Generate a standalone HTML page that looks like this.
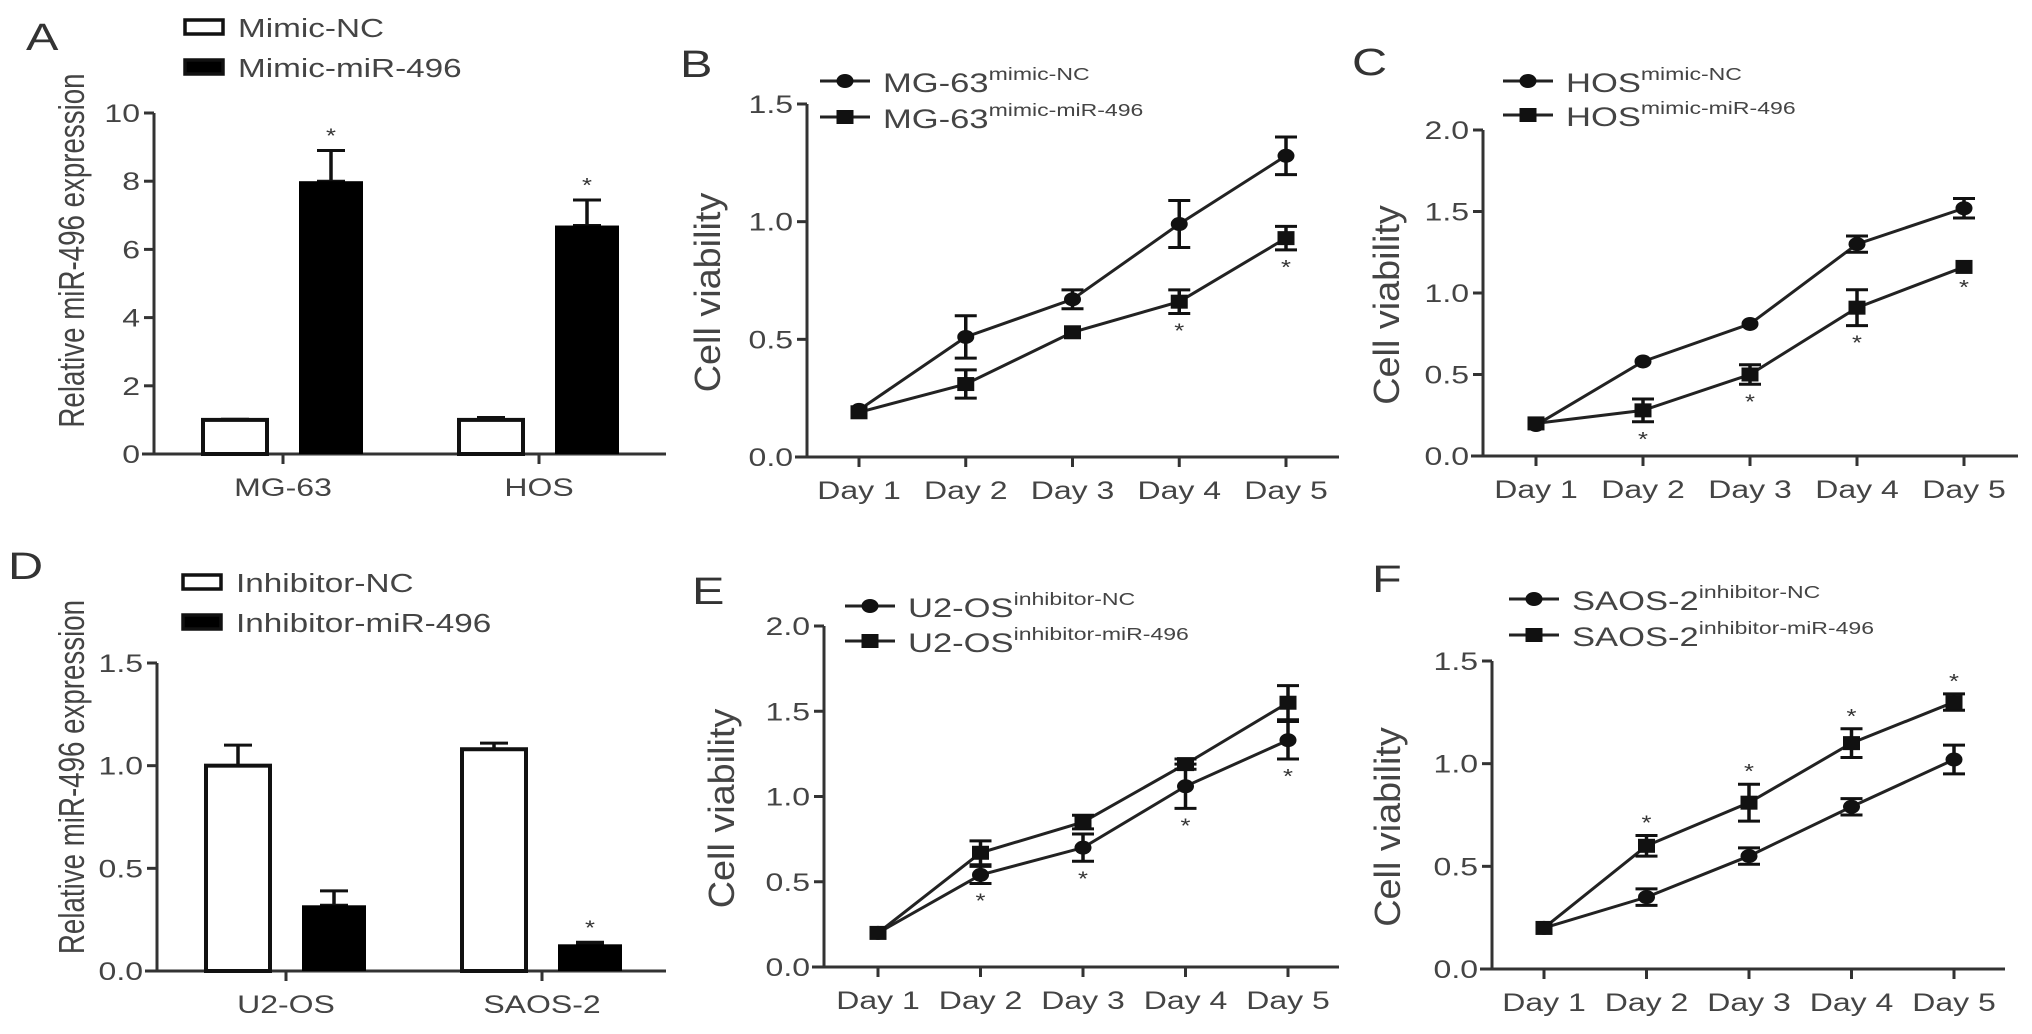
<!DOCTYPE html>
<html><head><meta charset="utf-8"><style>
html,body{margin:0;padding:0;background:#fff;overflow:hidden}
svg{display:block;font-family:"Liberation Sans",sans-serif}
</style></head><body>
<svg id="fig" width="2032" height="1034" viewBox="0 0 2032 1034" xmlns="http://www.w3.org/2000/svg"></svg>
<script>
// ---- Data ----
const barCatsA = ["MG-63","HOS"];
const barNC_A = [1.0, 1.0];
const barNCerr_A = [0.02, 0.07];
const barMiR_A = [8.0, 6.7];
const barMiRerr_A = [0.9, 0.75];
const barTicksA = [0,2,4,6,8,10];

const barCatsD = ["U2-OS","SAOS-2"];
const barNC_D = [1.0, 1.08];
const barNCerr_D = [0.1, 0.03];
const barMiR_D = [0.32, 0.13];
const barMiRerr_D = [0.07, 0.01];
const barStarD = [false, true];
const barTicksD = [0,0.5,1.0,1.5];

const days = ["Day 1","Day 2","Day 3","Day 4","Day 5"];
const B_nc = [0.20,0.51,0.67,0.99,1.28];
const B_ncErr = [0.02,0.09,0.04,0.10,0.08];
const B_mi = [0.19,0.31,0.53,0.66,0.93];
const B_miErr = [0.02,0.06,0.01,0.05,0.05];
const C_nc = [0.19,0.58,0.81,1.30,1.52];
const C_ncErr = [0.02,0.01,0.02,0.05,0.06];
const C_mi = [0.20,0.28,0.50,0.91,1.16];
const C_miErr = [0.02,0.07,0.06,0.11,0.02];
const E_nc = [0.20,0.54,0.70,1.06,1.33];
const E_ncErr = [0.02,0.05,0.08,0.13,0.11];
const E_mi = [0.20,0.67,0.85,1.19,1.55];
const E_miErr = [0.02,0.07,0.04,0.03,0.10];
const F_nc = [0.20,0.35,0.55,0.79,1.02];
const F_ncErr = [0.01,0.04,0.04,0.04,0.07];
const F_mi = [0.20,0.60,0.81,1.10,1.30];
const F_miErr = [0.01,0.05,0.09,0.07,0.04];
const ticks15 = [0,0.5,1.0,1.5];
const ticks20 = [0,0.5,1.0,1.5,2.0];

const NS="http://www.w3.org/2000/svg";
const svg=document.getElementById('fig');
const TXT="#444";
const SX=1.28;
function mk(tag,attrs,parent,text){
  const e=document.createElementNS(NS,tag);
  for(const k in attrs)e.setAttribute(k,attrs[k]);
  if(text!==undefined)e.textContent=text;
  (parent||svg).appendChild(e);return e;
}
function txt(g,x,y,t,size,anchor,fill){
  return mk('text',{x:0,y:0,transform:`translate(${x} ${y}) scale(${SX} 1)`,'font-size':size,'text-anchor':anchor||'start',fill:fill||TXT},g,t);
}
function label(x,y,t,name){
  const e=txt(svg,x,y,t,38,'start','#333');
  
  
}
function axes(g,P,ticks,fmt){
  const ya=mk('line',{x1:P.x0,y1:P.yTop,x2:P.x0,y2:P.y0,stroke:'#333','stroke-width':3},g);
  
  
  const xa=mk('line',{x1:P.x0-12,y1:P.y0,x2:P.xEnd,y2:P.y0,stroke:'#333','stroke-width':3},g);
  
  
  ticks.forEach(t=>{
    const y=P.ys(t);
    mk('line',{x1:P.x0-10,y1:y,x2:P.x0,y2:y,stroke:'#333','stroke-width':3},g);
    const tl=txt(g,P.x0-14,y+9,fmt(t),25,'end');
    
    
  });
}
function ylabel(g,x,cy,t,sc){
  const e=mk('text',{x:0,y:0,transform:`translate(${x} ${cy}) rotate(-90) scale(${sc} 1)`,'font-size':36,'text-anchor':'middle',fill:TXT},g,t);
  
  
}
function errbar(g,x,y1,y2,w){
  mk('line',{x1:x,y1:y1,x2:x,y2:y2,stroke:'#111','stroke-width':3.5},g);
  mk('line',{x1:x-w,y1:y1,x2:x+w,y2:y1,stroke:'#111','stroke-width':3},g);
  mk('line',{x1:x-w,y1:y2,x2:x+w,y2:y2,stroke:'#111','stroke-width':3},g);
}
function marker(g,type,x,y){
  let m;
  if(type==='c') m=mk('ellipse',{cx:x,cy:y,rx:8.5,ry:7,fill:'#111'},g);
  else m=mk('rect',{x:x-8.5,y:y-7,width:17,height:14,fill:'#111'},g);
  
  
}
function star(g,x,y){
  const s=txt(g,x,y,'*',20,'middle','#333');
  
  
}

function barPanel(P){
  const g=mk('g',{});
  
  
  P.ys=v=>P.y0-v/P.max*(P.y0-P.yTop);
  axes(g,P,P.ticks,P.fmt);
  ylabel(g,P.ylx,(P.y0+P.yTop)/2+P.ylo,"Relative miR-496 expression",0.77);
  P.cats.forEach((c,i)=>{
    const cx=P.catX[i];
    mk('line',{x1:cx,y1:P.y0,x2:cx,y2:P.y0+10,stroke:'#333','stroke-width':3},g);
    const cl=txt(g,cx,P.y0+42,c,25,'middle');
    
    
    const bw=64, gap=32;
    const xw=cx-gap/2-bw, xb=cx+gap/2;
    errbar(g,xw+bw/2,P.ys(P.nc[i]+P.ncErr[i]),P.ys(P.nc[i]),14);
    const r1=mk('rect',{x:xw,y:P.ys(P.nc[i]),width:bw,height:P.y0-P.ys(P.nc[i]),fill:'#fff',stroke:'#111','stroke-width':4},g);
    
    
    errbar(g,xb+bw/2,P.ys(P.mi[i]+P.miErr[i]),P.ys(P.mi[i]),14);
    const r2=mk('rect',{x:xb,y:P.ys(P.mi[i]),width:bw,height:P.y0-P.ys(P.mi[i]),fill:'#000'},g);
    
    
    if(P.star[i]) star(g,xb+bw/2,P.ys(P.mi[i]+P.miErr[i])-8);
  });
  P.leg.forEach((t,i)=>{
    const y=P.legY[i];
    const lb=mk('rect',{x:P.legX,y:y-7,width:38,height:14,fill:i?'#000':'#fff',stroke:'#111','stroke-width':3.5},g);
    
    
    const lt=txt(g,P.legX+53,y+10,t,26);
    
    
  });
}

function linePanel(P){
  const g=mk('g',{});
  
  
  P.ys=v=>P.y0-v/P.max*(P.y0-P.yTop);
  const xs=i=>P.dx0+i*(P.dx4-P.dx0)/4;
  axes(g,P,P.ticks,t=>t.toFixed(1));
  ylabel(g,P.ylx,(P.y0+P.yTop)/2+12,"Cell viability",1.05);
  days.forEach((d,i)=>{
    mk('line',{x1:xs(i),y1:P.y0,x2:xs(i),y2:P.y0+10,stroke:'#333','stroke-width':3},g);
    const dl=txt(g,xs(i),P.y0+42,d,25,'middle');
    
    
  });
  [[P.nc,P.ncErr,'c'],[P.mi,P.miErr,'s']].forEach(([vals,errs,type])=>{
    const pts=vals.map((v,i)=>xs(i)+','+P.ys(v)).join(' ');
    const pl=mk('polyline',{points:pts,fill:'none',stroke:'#222','stroke-width':3},g);
    
    
    vals.forEach((v,i)=>{
      if(errs[i]>0.025) errbar(g,xs(i),P.ys(v+errs[i]),P.ys(v-errs[i]),11);
      marker(g,type,xs(i),P.ys(v));
    });
  });
  P.stars.forEach((s,i)=>{
    if(!s)return;
    const src=P.starOn==='mi'?[P.mi,P.miErr]:[P.nc,P.ncErr];
    if(P.starAbove) star(g,xs(i),P.ys(src[0][i]+src[1][i])-6);
    else star(g,xs(i),P.ys(src[0][i]-src[1][i])+24);
  });
  P.leg.forEach((t,i)=>{
    const y=P.legY[i];
    mk('line',{x1:P.legX-25,y1:y,x2:P.legX+25,y2:y,stroke:'#222','stroke-width':3},g);
    marker(g,i?'s':'c',P.legX,y);
    const lt=mk('text',{x:0,y:0,transform:`translate(${P.legX+38} ${y+11}) scale(${SX} 1)`,'font-size':27,fill:TXT},g);
    
    
    mk('tspan',{},lt,t[0]);
    mk('tspan',{'font-size':18,dy:-12},lt,t[1]);
  });
}

label(26,50,"A","panel-label-a");
label(680,77,"B","panel-label-b");
label(1352,75,"C","panel-label-c");
label(8,579,"D","panel-label-d");
label(692,604,"E","panel-label-e");
label(1372,592,"F","panel-label-f");

barPanel({name:'panel-a',x0:154,y0:454,yTop:113,xEnd:666,max:10,ticks:barTicksA,fmt:t=>String(t),
  ylx:84,ylo:-33,cats:barCatsA,catX:[283,539],nc:barNC_A,ncErr:barNCerr_A,mi:barMiR_A,miErr:barMiRerr_A,
  star:[true,true],leg:["Mimic-NC","Mimic-miR-496"],legX:185,legY:[27,67]});
barPanel({name:'panel-d',x0:157,y0:971,yTop:663,xEnd:666,max:1.5,ticks:barTicksD,fmt:t=>t.toFixed(1),
  ylx:84,ylo:-40,cats:barCatsD,catX:[286,542],nc:barNC_D,ncErr:barNCerr_D,mi:barMiR_D,miErr:barMiRerr_D,
  star:barStarD,leg:["Inhibitor-NC","Inhibitor-miR-496"],legX:183,legY:[582,622]});

linePanel({name:'panel-b',x0:807,y0:457,yTop:104,xEnd:1339,max:1.5,ticks:ticks15,ylx:720,
  dx0:859,dx4:1286,nc:B_nc,ncErr:B_ncErr,mi:B_mi,miErr:B_miErr,stars:[0,0,0,1,1],starOn:'mi',
  leg:[["MG-63","mimic-NC"],["MG-63","mimic-miR-496"]],legX:845,legY:[81,117]});
linePanel({name:'panel-c',x0:1483,y0:456,yTop:130,xEnd:2018,max:2.0,ticks:ticks20,ylx:1399,
  dx0:1536,dx4:1964,nc:C_nc,ncErr:C_ncErr,mi:C_mi,miErr:C_miErr,stars:[0,1,1,1,1],starOn:'mi',
  leg:[["HOS","mimic-NC"],["HOS","mimic-miR-496"]],legX:1528,legY:[81,115]});
linePanel({name:'panel-e',x0:824,y0:967,yTop:626,xEnd:1339,max:2.0,ticks:ticks20,ylx:734,
  dx0:878,dx4:1288,nc:E_nc,ncErr:E_ncErr,mi:E_mi,miErr:E_miErr,stars:[0,1,1,1,1],starOn:'nc',
  leg:[["U2-OS","inhibitor-NC"],["U2-OS","inhibitor-miR-496"]],legX:870,legY:[606,641]});
linePanel({name:'panel-f',x0:1492,y0:969,yTop:661,xEnd:2005,max:1.5,ticks:ticks15,ylx:1400,
  dx0:1544,dx4:1954,nc:F_nc,ncErr:F_ncErr,mi:F_mi,miErr:F_miErr,stars:[0,1,1,1,1],starOn:'mi',starAbove:true,
  leg:[["SAOS-2","inhibitor-NC"],["SAOS-2","inhibitor-miR-496"]],legX:1534,legY:[599,635]});
</script>
</body></html>
